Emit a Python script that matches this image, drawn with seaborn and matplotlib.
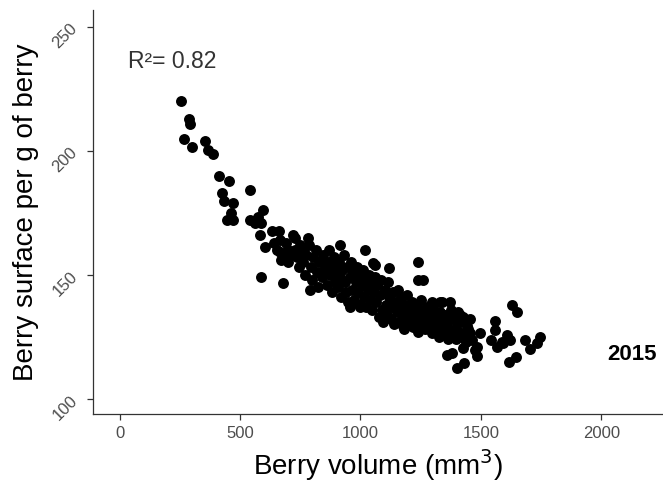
import matplotlib
matplotlib.use('Agg')
import matplotlib.pyplot as plt
import seaborn as sns
import pandas as pd

# upper-left tail of the cloud
tail_vol = [257, 287, 294, 269, 302, 354, 366, 386, 412, 454, 541, 424, 433, 469, 461, 444, 470,
            595, 574, 541, 562, 586, 582, 603, 631, 661, 665, 665, 686, 699, 728, 782, 589, 677,
            728, 761, 755]
tail_surf = [219.9, 212.9, 210.9, 204.8, 201.7, 203.8, 200.4, 198.8, 190.0, 187.9, 184.3, 182.9,
             179.8, 179.0, 175.1, 172.2, 172.2, 176.2, 173.5, 172.2, 171.0, 171.0, 166.1, 161.4,
             167.5, 167.5, 164.1, 159.4, 158.1, 160.1, 164.9, 164.9, 149.3, 146.9, 160.1, 160.1,
             156.9]

# scattered points around the middle
mid_vol = [914, 1018, 1118, 1238, 1238, 1051, 1060, 790, 956, 997, 1093, 1176, 1233, 1295, 1337,
           1371, 1405, 1425, 1330, 1259]
mid_surf = [161.9, 159.9, 152.8, 155.2, 148.0, 154.8, 154.0, 143.9, 137.2, 137.2, 133.2, 129.2,
            128.6, 126.6, 139.2, 139.2, 135.2, 133.2, 139.2, 148.0]

# right tail
right_vol = [1358, 1378, 1399, 1429, 1482, 1558, 1558, 1544, 1565, 1586, 1628, 1650, 1607, 1620,
             1591, 1683, 1704, 1745, 1731, 1616, 1645, 1462, 1482, 1454, 1404, 1441, 1496, 1425,
             1475, 1385, 1358]
right_surf = [117.7, 118.5, 112.3, 114.5, 117.3, 131.4, 127.8, 123.8, 121.1, 123.1, 137.9, 135.2,
              125.8, 123.8, 122.6, 123.8, 120.2, 125.1, 122.6, 115.0, 116.9, 123.8, 121.1, 126.6,
              126.6, 129.2, 126.6, 120.6, 119.8, 127.1, 129.2]

# dense core of the cloud
core_vol = [640, 655, 672, 690, 700, 710, 720, 735, 745, 748,
            760, 770, 775, 785, 795, 800, 805, 815, 820, 825,
            830, 840, 845, 850, 860, 865, 870, 875, 880, 885, 890, 895, 900,
            905, 910, 915, 920, 925, 930, 935, 940, 945, 950, 955, 960, 965, 970, 975, 980,
            985, 990, 995, 1000, 1005, 1010, 1015, 1020, 1025, 1030, 1035, 1040, 1045, 1050, 1055, 1060,
            1065, 1070, 1075, 1080, 1085, 1090, 1095, 1100, 1105, 1110, 1115, 1120, 1125, 1130, 1135, 1140,
            1145, 1150, 1155, 1160, 1165, 1170, 1175, 1180, 1185, 1190, 1195, 1200, 1205, 1210, 1215, 1220,
            1225, 1230, 1235, 1240, 1245, 1250, 1255, 1260, 1265, 1270, 1275, 1280, 1285, 1290, 1295, 1300,
            1305, 1310, 1315, 1320, 1325, 1330, 1340, 1345, 1350, 1360, 1365, 1370, 1375, 1380,
            1390, 1395, 1400, 1410, 1415, 1420, 1430, 1440, 1445, 1455]
core_surf = [163, 160, 156, 163, 155, 158, 166, 157, 153, 162,
             155, 150, 158, 162, 153, 148, 157, 160, 151, 145,
             155, 149, 158, 152, 146, 155, 160, 150, 143, 153, 157, 147, 151,
             145, 155, 149, 141, 152, 158, 147, 143, 153, 139, 149, 155, 144, 151, 140, 147,
             153, 143, 149, 138, 146, 152, 141, 148, 137, 144, 150, 140, 146, 136, 143, 149,
             139, 146, 133, 142, 148, 136, 131, 144, 138, 134, 147, 141, 132, 137, 143, 130,
             139, 135, 144, 131, 137, 141, 133, 128, 138, 135, 142, 130, 136, 133, 139, 129,
             135, 138, 131, 127, 134, 140, 130, 136, 133, 128, 137, 131, 135, 129, 139, 132,
             136, 128, 133, 130, 125, 135, 131, 127, 134, 129, 124, 132, 136, 127,
             133, 124, 130, 127, 134, 125, 131, 123, 128, 132]

df = pd.DataFrame({
    'volume': tail_vol + mid_vol + right_vol + core_vol,
    'surface': tail_surf + mid_surf + right_surf + core_surf,
})

sns.set_style('ticks')
plt.rcParams['font.family'] = ['Liberation Sans', 'DejaVu Sans']

fig = plt.figure(figsize=(6.63, 4.98), dpi=100)
ax = fig.add_axes([0.140, 0.1687, 0.860, 0.8113])

sns.scatterplot(x='volume', y='surface', data=df, ax=ax, color='black',
                s=62, linewidth=0, alpha=1)

ax.set_xlim(-111, 2256)
ax.set_ylim(93.9, 256.8)
ax.set_xticks([0, 500, 1000, 1500, 2000])
ax.set_yticks([100, 150, 200, 250])

ax.set_xlabel('Berry volume (mm$^3$)', fontsize=20, color='black', labelpad=4)
ax.set_ylabel('Berry surface per g of berry', fontsize=20, color='black', labelpad=8)

for side in ['top', 'right']:
    ax.spines[side].set_visible(False)
for side in ['left', 'bottom']:
    ax.spines[side].set_color('#333333')
    ax.spines[side].set_linewidth(0.9)

ax.tick_params(axis='both', direction='out', length=4, width=0.9, color='#333333',
               labelsize=12, labelcolor='#4d4d4d', pad=5)
plt.setp(ax.get_yticklabels(), rotation=45)

ax.text(34, 236, 'R²= 0.82', fontsize=16.5, color='#333333', va='center', ha='left')
ax.text(2025, 117.7, '2015', fontsize=16, fontweight='bold', color='black',
        va='center', ha='left')

fig.savefig('out.png', dpi=100)
